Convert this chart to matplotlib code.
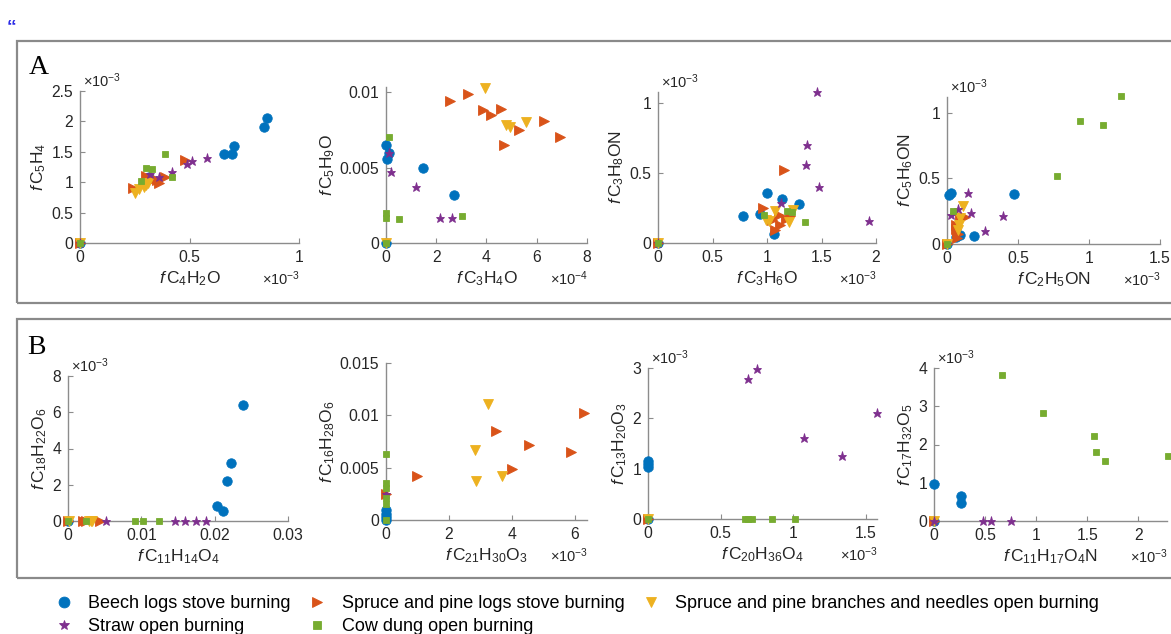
import matplotlib
matplotlib.use("Agg")
import matplotlib.pyplot as plt
from matplotlib.ticker import FuncFormatter
from matplotlib.patches import Rectangle

plt.rcParams['font.family'] = ['Liberation Sans', 'DejaVu Sans']
plt.rcParams['mathtext.fontset'] = 'custom'
plt.rcParams['mathtext.rm'] = 'Liberation Sans'
plt.rcParams['mathtext.it'] = 'Liberation Sans:italic'
plt.rcParams['mathtext.bf'] = 'Liberation Sans:bold'

# ---------------- data (values in displayed axis units) ----------------
SERIES = ["Beech logs stove burning", "Spruce and pine logs stove burning",
          "Spruce and pine branches and needles open burning",
          "Straw open burning", "Cow dung open burning"]
COLORS = ["#0072BD", "#D95319", "#EDB120", "#7E2F8E", "#77AC30"]
MARKERS = ["o", ">", "v", "*", "s"]
MSIZES = [6.8, 6.8, 6.8, 6.5, 5.0]

# Panel A1: f C4H2O (x1e-3) vs f C5H4 (x1e-3)
a1_beech = ([0, 0.852, 0.841, 0.705, 0.694, 0.658, 0.315], [0, 2.06, 1.90, 1.59, 1.46, 1.46, 1.09])
a1_logs = ([0, 0.24, 0.30, 0.33, 0.35, 0.36, 0.39, 0.48], [0, 0.91, 1.10, 1.04, 1.03, 0.99, 1.08, 1.36])
a1_branch = ([0, 0.25, 0.27, 0.29, 0.30, 0.31], [0, 0.82, 0.88, 0.92, 0.95, 0.98])
a1_straw = ([0, 0.32, 0.36, 0.42, 0.49, 0.51, 0.58], [0, 1.13, 1.08, 1.17, 1.30, 1.35, 1.39])
a1_cow = ([0, 0.39, 0.30, 0.33, 0.28, 0.42], [0, 1.46, 1.24, 1.21, 1.02, 1.09])

# Panel A2: f C3H4O (x1e-4) vs f C5H9O
a2_beech = ([0, 0.0, 0.05, 0.13, 1.46, 2.70], [0, 0.0065, 0.0056, 0.0060, 0.0050, 0.0032])
a2_logs = ([2.54, 3.27, 3.88, 4.16, 4.56, 5.28, 4.69, 6.28, 6.94],
           [0.0094, 0.0099, 0.0088, 0.0085, 0.0089, 0.0075, 0.0065, 0.0081, 0.0070])
a2_branch = ([0, 3.93, 4.79, 4.93, 5.59], [0, 0.0103, 0.0078, 0.0077, 0.0080])
a2_straw = ([0.13, 0.19, 1.18, 2.16, 2.61], [0.0060, 0.0047, 0.0037, 0.00165, 0.00165])
a2_cow = ([0, 0.11, 0, 0, 0.5, 3.03], [0, 0.0070, 0.0020, 0.00165, 0.0016, 0.00176])

# Panel A3: f C3H6O (x1e-3) vs f C3H8ON (x1e-3)
a3_beech = ([0, 0.78, 0.94, 1.00, 1.14, 1.29, 1.06], [0, 0.19, 0.207, 0.357, 0.317, 0.276, 0.062])
a3_logs = ([0, 1.155, 0.96, 1.05, 1.07, 1.12, 1.17, 1.11, 1.21], [0, 0.52, 0.25, 0.164, 0.095, 0.129, 0.174, 0.198, 0.19])
a3_branch = ([0, 0.99, 1.07, 1.20, 1.24, 1.02], [0, 0.164, 0.23, 0.148, 0.233, 0.157])
a3_straw = ([0, 1.46, 1.37, 1.36, 1.48, 1.13, 1.935], [0, 1.083, 0.70, 0.56, 0.398, 0.286, 0.16])
a3_cow = ([0, 0.97, 1.18, 1.23, 1.35], [0, 0.202, 0.226, 0.221, 0.152])

# Panel A4: f C2H5ON (x1e-3) vs f C5H6ON (x1e-3)
a4_beech = ([0, 0.012, 0.03, 0.469, 0.192, 0.094, 0.066], [0, 0.375, 0.392, 0.382, 0.063, 0.071, 0.056])
a4_logs = ([0, 0.07, 0.066, 0.129, 0.08, 0.06, 0.094], [0, 0.046, 0.114, 0.205, 0.08, 0.147, 0.21])
a4_branch = ([0, 0.11, 0.094, 0.082, 0.075], [0, 0.286, 0.197, 0.147, 0.11])
a4_straw = ([0.15, 0.077, 0.03, 0.171, 0.391, 0.265], [0.387, 0.266, 0.218, 0.235, 0.215, 0.099])
a4_cow = ([0, 0.776, 0.935, 1.099, 1.223, 0.045], [0, 0.519, 0.937, 0.906, 1.127, 0.248])

# Panel B1: f C11H14O4 vs f C18H22O6 (x1e-3)
b1_beech = ([0, 0.0238, 0.0222, 0.0217, 0.0203, 0.0212], [0, 6.42, 3.22, 2.19, 0.81, 0.53])
b1_logs = ([0, 0.0021, 0.0024, 0.0044], [0, 0, 0, 0])
b1_branch = ([0.0001, 0.0028, 0.0031, 0.0033], [0, 0, 0, 0])
b1_straw = ([0.0052, 0.0146, 0.0160, 0.0175, 0.0188], [0, 0, 0, 0, 0])
b1_cow = ([0, 0.0024, 0.0091, 0.0102, 0.0124], [0, 0, 0, 0, 0])

# Panel B2: f C21H30O3 (x1e-3) vs f C16H28O6
b2_beech = ([0, 0, 0, 0], [0, 0.0003, 0.0006, 0.001])
b2_logs = ([0, 0.99, 3.49, 3.99, 4.55, 5.86, 6.30], [0.0025, 0.00424, 0.00849, 0.00488, 0.00721, 0.00651, 0.01024])
b2_branch = ([3.24, 2.82, 2.85, 3.68], [0.0111, 0.0067, 0.00373, 0.00424])
b2_straw = ([0], [0.0025])
b2_cow = ([0, 0, 0, 0, 0, 0], [0, 0.0015, 0.00214, 0.00303, 0.00354, 0.0063])

# Panel B3: f C20H36O4 (x1e-3) vs f C13H20O3 (x1e-3)
b3_beech = ([0, 0, 0, 0], [0, 1.04, 1.10, 1.16])
b3_logs = ([0], [0])
b3_branch = ([0], [0])
b3_straw = ([0.687, 0.749, 1.076, 1.335, 1.573], [2.78, 2.99, 1.61, 1.26, 2.11])
b3_cow = ([0, 0.666, 0.685, 0.715, 0.852, 1.012], [0, 0, 0, 0, 0, 0])

# Panel B4: f C11H17O4N (x1e-3) vs f C17H32O5 (x1e-3)
b4_beech = ([0, 0, 0.262, 0.262], [0, 0.974, 0.661, 0.478])
b4_logs = ([0], [0])
b4_branch = ([0], [0])
b4_straw = ([0, 0.482, 0.554, 0.754], [0, 0, 0, 0])
b4_cow = ([0.662, 1.069, 1.570, 1.587, 1.672, 2.285], [3.81, 2.82, 2.23, 1.81, 1.57, 1.70])

XLABELS = [r"$\mathit{f}\,\mathrm{C_4H_2O}$", r"$\mathit{f}\,\mathrm{C_3H_4O}$",
           r"$\mathit{f}\,\mathrm{C_3H_6O}$", r"$\mathit{f}\,\mathrm{C_2H_5ON}$",
           r"$\mathit{f}\,\mathrm{C_{11}H_{14}O_4}$", r"$\mathit{f}\,\mathrm{C_{21}H_{30}O_3}$",
           r"$\mathit{f}\,\mathrm{C_{20}H_{36}O_4}$", r"$\mathit{f}\,\mathrm{C_{11}H_{17}O_4N}$"]
YLABELS = [r"$\mathit{f}\,\mathrm{C_5H_4}$", r"$\mathit{f}\,\mathrm{C_5H_9O}$",
           r"$\mathit{f}\,\mathrm{C_3H_8ON}$", r"$\mathit{f}\,\mathrm{C_5H_6ON}$",
           r"$\mathit{f}\,\mathrm{C_{18}H_{22}O_6}$", r"$\mathit{f}\,\mathrm{C_{16}H_{28}O_6}$",
           r"$\mathit{f}\,\mathrm{C_{13}H_{20}O_3}$", r"$\mathit{f}\,\mathrm{C_{17}H_{32}O_5}$"]
XTICKS = [[0, 0.5, 1], [0, 2, 4, 6, 8], [0, 0.5, 1, 1.5, 2], [0, 0.5, 1, 1.5],
          [0, 0.01, 0.02, 0.03], [0, 2, 4, 6], [0, 0.5, 1, 1.5], [0, 0.5, 1, 1.5, 2]]
YTICKS = [[0, 0.5, 1, 1.5, 2, 2.5], [0, 0.005, 0.01], [0, 0.5, 1], [0, 0.5, 1],
          [0, 2, 4, 6, 8], [0, 0.005, 0.01, 0.015], [0, 1, 2, 3], [0, 1, 2, 3, 4]]
XLIMS = [(0, 1), (0, 8), (0, 2), (0, 1.5), (0, 0.03), (0, 6.38), (0, 1.576), (0, 2.28)]
YLIMS = [(0, 2.5), (0, 0.01035), (0, 1.08), (0, 1.12), (0, 8), (0, 0.015), (0, 3), (0, 4)]
XEXP = [-3, -4, -3, -3, None, -3, -3, -3]
YEXP = [-3, None, -3, -3, -3, None, -3, -3]

PANEL_DATA = [
    [a1_beech, a1_logs, a1_branch, a1_straw, a1_cow],
    [a2_beech, a2_logs, a2_branch, a2_straw, a2_cow],
    [a3_beech, a3_logs, a3_branch, a3_straw, a3_cow],
    [a4_beech, a4_logs, a4_branch, a4_straw, a4_cow],
    [b1_beech, b1_logs, b1_branch, b1_straw, b1_cow],
    [b2_beech, b2_logs, b2_branch, b2_straw, b2_cow],
    [b3_beech, b3_logs, b3_branch, b3_straw, b3_cow],
    [b4_beech, b4_logs, b4_branch, b4_straw, b4_cow],
]

# ---------------- layout (pixels) ----------------
W, H = 1171, 634
RECTS_PX = [(80, 299, 91, 243), (386, 587, 87, 243), (658, 876, 92, 243), (947, 1160, 97, 244),
            (68, 288, 376, 521), (386, 587, 363, 520), (648, 877, 368, 519), (934, 1167, 368, 521)]

fig = plt.figure(figsize=(W / 100, H / 100), dpi=100)
fig.patch.set_facecolor("white")

# panel boxes
for (x0, y0, x1, y1) in [(17, 41, 1200, 303), (17, 319, 1200, 578)]:
    fig.patches.append(Rectangle((x0 / W, 1 - y1 / H), (x1 - x0) / W, (y1 - y0) / H,
                                 transform=fig.transFigure, fill=False,
                                 edgecolor="#8a8a8a", linewidth=1.6))

fig.text(39 / W, 1 - 67 / H, "A", family="Liberation Serif", fontsize=20,
         ha="center", va="center", color="black")
fig.text(36 / W, 1 - 347 / H, "B", family="Liberation Serif", fontsize=20,
         ha="center", va="center", color="black")
fig.text(7 / W, 1 - 32 / H, "\u201c", fontsize=14, fontweight="bold",
         color="#2a2ae6", ha="left", va="baseline")

SPINE = "#8c8c8c"
TXT = "#262626"
fmt = FuncFormatter(lambda v, p: f"{round(v, 8):g}")

handles = []
for i, rpx in enumerate(RECTS_PX):
    x0, x1, yt, yb = rpx
    ax = fig.add_axes([x0 / W, 1 - yb / H, (x1 - x0) / W, (yb - yt) / H])
    for k, (xs, ys) in enumerate(PANEL_DATA[i]):
        ln, = ax.plot(xs, ys, linestyle="none", marker=MARKERS[k], color=COLORS[k],
                      markersize=MSIZES[k], markeredgewidth=0.6, markeredgecolor=COLORS[k],
                      clip_on=False, zorder=3, label=SERIES[k])
        if i == 0:
            handles.append(ln)
    ax.set_xlim(*XLIMS[i])
    ax.set_ylim(*YLIMS[i])
    ax.set_xticks(XTICKS[i])
    ax.set_yticks(YTICKS[i])
    ax.xaxis.set_major_formatter(fmt)
    ax.yaxis.set_major_formatter(fmt)
    for s in ["top", "right"]:
        ax.spines[s].set_visible(False)
    for s in ["left", "bottom"]:
        ax.spines[s].set_color(SPINE)
        ax.spines[s].set_linewidth(1.0)
    ax.tick_params(direction="in", length=3.5, width=0.8, color=SPINE,
                   labelsize=11.3, labelcolor=TXT, pad=5)
    ax.set_facecolor("none")
    ax.set_xlabel(XLABELS[i], fontsize=12.5, color=TXT, labelpad=3)
    ax.set_ylabel(YLABELS[i], fontsize=12.5, color=TXT, labelpad=2)
    if XEXP[i] is not None:
        ax.annotate(r"$\times\mathrm{10^{%d}}$" % XEXP[i], xy=(1, 0), xycoords="axes fraction",
                    xytext=(1, -26), textcoords="offset points", ha="right", va="center",
                    fontsize=10.5, color=TXT)
    if YEXP[i] is not None:
        ax.annotate(r"$\times\mathrm{10^{%d}}$" % YEXP[i], xy=(0, 1), xycoords="axes fraction",
                    xytext=(2, 0.5), textcoords="offset points", ha="left", va="bottom",
                    fontsize=10.5, color=TXT)

# legend: order chosen so columns fill like the reference
order = [0, 3, 1, 4, 2]
leg = fig.legend([handles[j] for j in order], [SERIES[j] for j in order],
                 ncol=3, loc="upper left", bbox_to_anchor=(55 / W, 1 - 595 / H),
                 frameon=False, fontsize=13, handlelength=1.0, handletextpad=0.85,
                 columnspacing=0.97, labelspacing=0.33, borderpad=0, borderaxespad=0,
                 markerscale=1.15)
for t in leg.get_texts():
    t.set_color("black")

fig.savefig("out.png", dpi=100, facecolor="white")
